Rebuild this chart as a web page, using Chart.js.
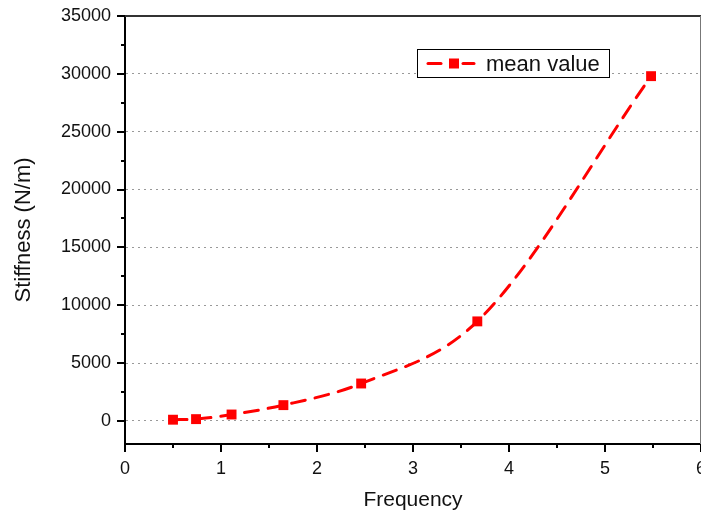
<!DOCTYPE html>
<html>
<head>
<meta charset="utf-8">
<script src="https://cdn.jsdelivr.net/npm/chart.js@4.4.1/dist/chart.umd.min.js"></script>
<style>
  html, body { margin: 0; padding: 0; background: #fff; }
  #wrap { width: 701px; height: 514px; }
</style>
</head>
<body>
<div id="wrap"><canvas id="chart" width="701" height="514"></canvas></div>
<script>
// data
var freq = [0.5, 0.74, 1.11, 1.65, 2.46, 3.67, 5.48];
var stiffness = [100, 150, 550, 1360, 3230, 8600, 29800];
var xTicks = [0, 1, 2, 3, 4, 5, 6];
var yTicks = [0, 5000, 10000, 15000, 20000, 25000, 30000, 35000];

var FONT = '"Liberation Sans", Arial, sans-serif';

// draws frame, major/minor ticks and the in-plot legend
var framePlugin = {
    id: 'frame',
    afterDraw: function(chart) {
        var ctx = chart.ctx;
        var a = chart.chartArea;
        var xs = chart.scales.x, ys = chart.scales.y;
        ctx.save();

        // top and right border
        ctx.strokeStyle = '#333';
        ctx.lineWidth = 2;
        ctx.beginPath(); ctx.moveTo(a.left, a.top); ctx.lineTo(a.right, a.top); ctx.stroke();
        ctx.strokeStyle = '#777';
        ctx.lineWidth = 1;
        ctx.beginPath(); ctx.moveTo(a.right - 0.5, a.top); ctx.lineTo(a.right - 0.5, a.bottom); ctx.stroke();

        // ticks on left axis
        ctx.strokeStyle = '#000';
        ctx.lineWidth = 2;
        for (var v = 0; v <= 35000; v += 2500) {
            var py = Math.round(ys.getPixelForValue(v));
            var len = (v % 5000 === 0) ? 8 : 4;
            ctx.beginPath(); ctx.moveTo(a.left, py); ctx.lineTo(a.left - len, py); ctx.stroke();
        }
        // ticks on bottom axis
        for (var k = 0; k <= 12; k++) {
            var xv = k / 2;
            var px = Math.round(xs.getPixelForValue(xv));
            var l2 = (k % 2 === 0) ? 8 : 4;
            ctx.beginPath(); ctx.moveTo(px, a.bottom); ctx.lineTo(px, a.bottom + l2); ctx.stroke();
        }

        // legend box
        var ds = chart.data.datasets[0];
        var bx = 417, by = 49, bw = 192, bh = 28;
        ctx.fillStyle = '#fff';
        ctx.fillRect(bx, by, bw, bh);
        ctx.strokeStyle = '#000';
        ctx.lineWidth = 1;
        ctx.strokeRect(bx + 0.5, by + 0.5, bw, bh);
        var cy = by + bh / 2 + 0.5;
        ctx.strokeStyle = ds.borderColor;
        ctx.lineWidth = 3;
        ctx.lineCap = 'round';
        ctx.beginPath(); ctx.moveTo(428, cy); ctx.lineTo(441, cy); ctx.stroke();
        ctx.beginPath(); ctx.moveTo(463, cy); ctx.lineTo(474, cy); ctx.stroke();
        ctx.fillStyle = ds.pointBackgroundColor;
        ctx.fillRect(449, cy - 5, 10, 10);
        ctx.fillStyle = '#111';
        ctx.font = '22px ' + FONT;
        ctx.textBaseline = 'middle';
        ctx.textAlign = 'left';
        ctx.fillText(ds.label, 486, cy + 1);
        ctx.restore();
    }
};

var ctx = document.getElementById('chart').getContext('2d');
var chart = new Chart(ctx, {
    type: 'line',
    data: {
        datasets: [{
            label: 'mean value',
            data: freq.map(function(f, i) { return { x: f, y: stiffness[i] }; }),
            borderColor: 'rgb(255, 0, 0)',
            backgroundColor: 'rgb(255, 0, 0)',
            pointBackgroundColor: 'rgb(255, 0, 0)',
            pointBorderWidth: 0,
            pointStyle: 'rect',
            pointRadius: 7,
            borderWidth: 3,
            borderDash: [14, 10],
            borderCapStyle: 'round',
            cubicInterpolationMode: 'monotone',
            fill: false
        }]
    },
    options: {
        animation: false,
        responsive: false,
        maintainAspectRatio: false,
        layout: { autoPadding: false, padding: { top: 16, right: 0, left: 0, bottom: 0 } },
        plugins: {
            legend: { display: false },
            tooltip: { enabled: false }
        },
        scales: {
            x: {
                type: 'linear',
                min: 0,
                max: 6,
                afterBuildTicks: function(scale) {
                    scale.ticks = xTicks.map(function(v) { return { value: v }; });
                },
                afterFit: function(scale) {
                    scale.height = 70;
                    scale.paddingLeft = 0;
                    scale.paddingRight = 0;
                },
                grid: { display: false, drawTicks: false },
                border: { display: true, color: '#000', width: 2 },
                ticks: {
                    color: '#111',
                    padding: 14,
                    font: { family: FONT, size: 18 },
                    maxRotation: 0,
                    autoSkip: false
                },
                title: {
                    display: true,
                    text: 'Frequency',
                    color: '#111',
                    font: { family: FONT, size: 21 },
                    padding: { top: 4, bottom: 1 }
                }
            },
            y: {
                min: -2000,
                max: 35000,
                afterBuildTicks: function(scale) {
                    scale.ticks = yTicks.map(function(v) { return { value: v }; });
                },
                afterFit: function(scale) {
                    scale.width = 125;
                    scale.paddingTop = 0;
                    scale.paddingBottom = 0;
                },
                grid: {
                    drawTicks: false,
                    color: function(c) { return c.tick && c.tick.value < 35000 ? '#999' : 'rgba(0,0,0,0)'; },
                    lineWidth: 1
                },
                border: { display: true, color: '#000', width: 2, dash: [2, 4] },
                ticks: {
                    color: '#111',
                    padding: 14,
                    font: { family: FONT, size: 18 },
                    autoSkip: false,
                    callback: function(v) { return String(v); }
                },
                title: {
                    display: true,
                    text: 'Stiffness (N/m)',
                    color: '#111',
                    font: { family: FONT, size: 22 },
                    padding: { top: 11, bottom: 0 }
                }
            }
        }
    },
    plugins: [framePlugin]
});
</script>
</body>
</html>
